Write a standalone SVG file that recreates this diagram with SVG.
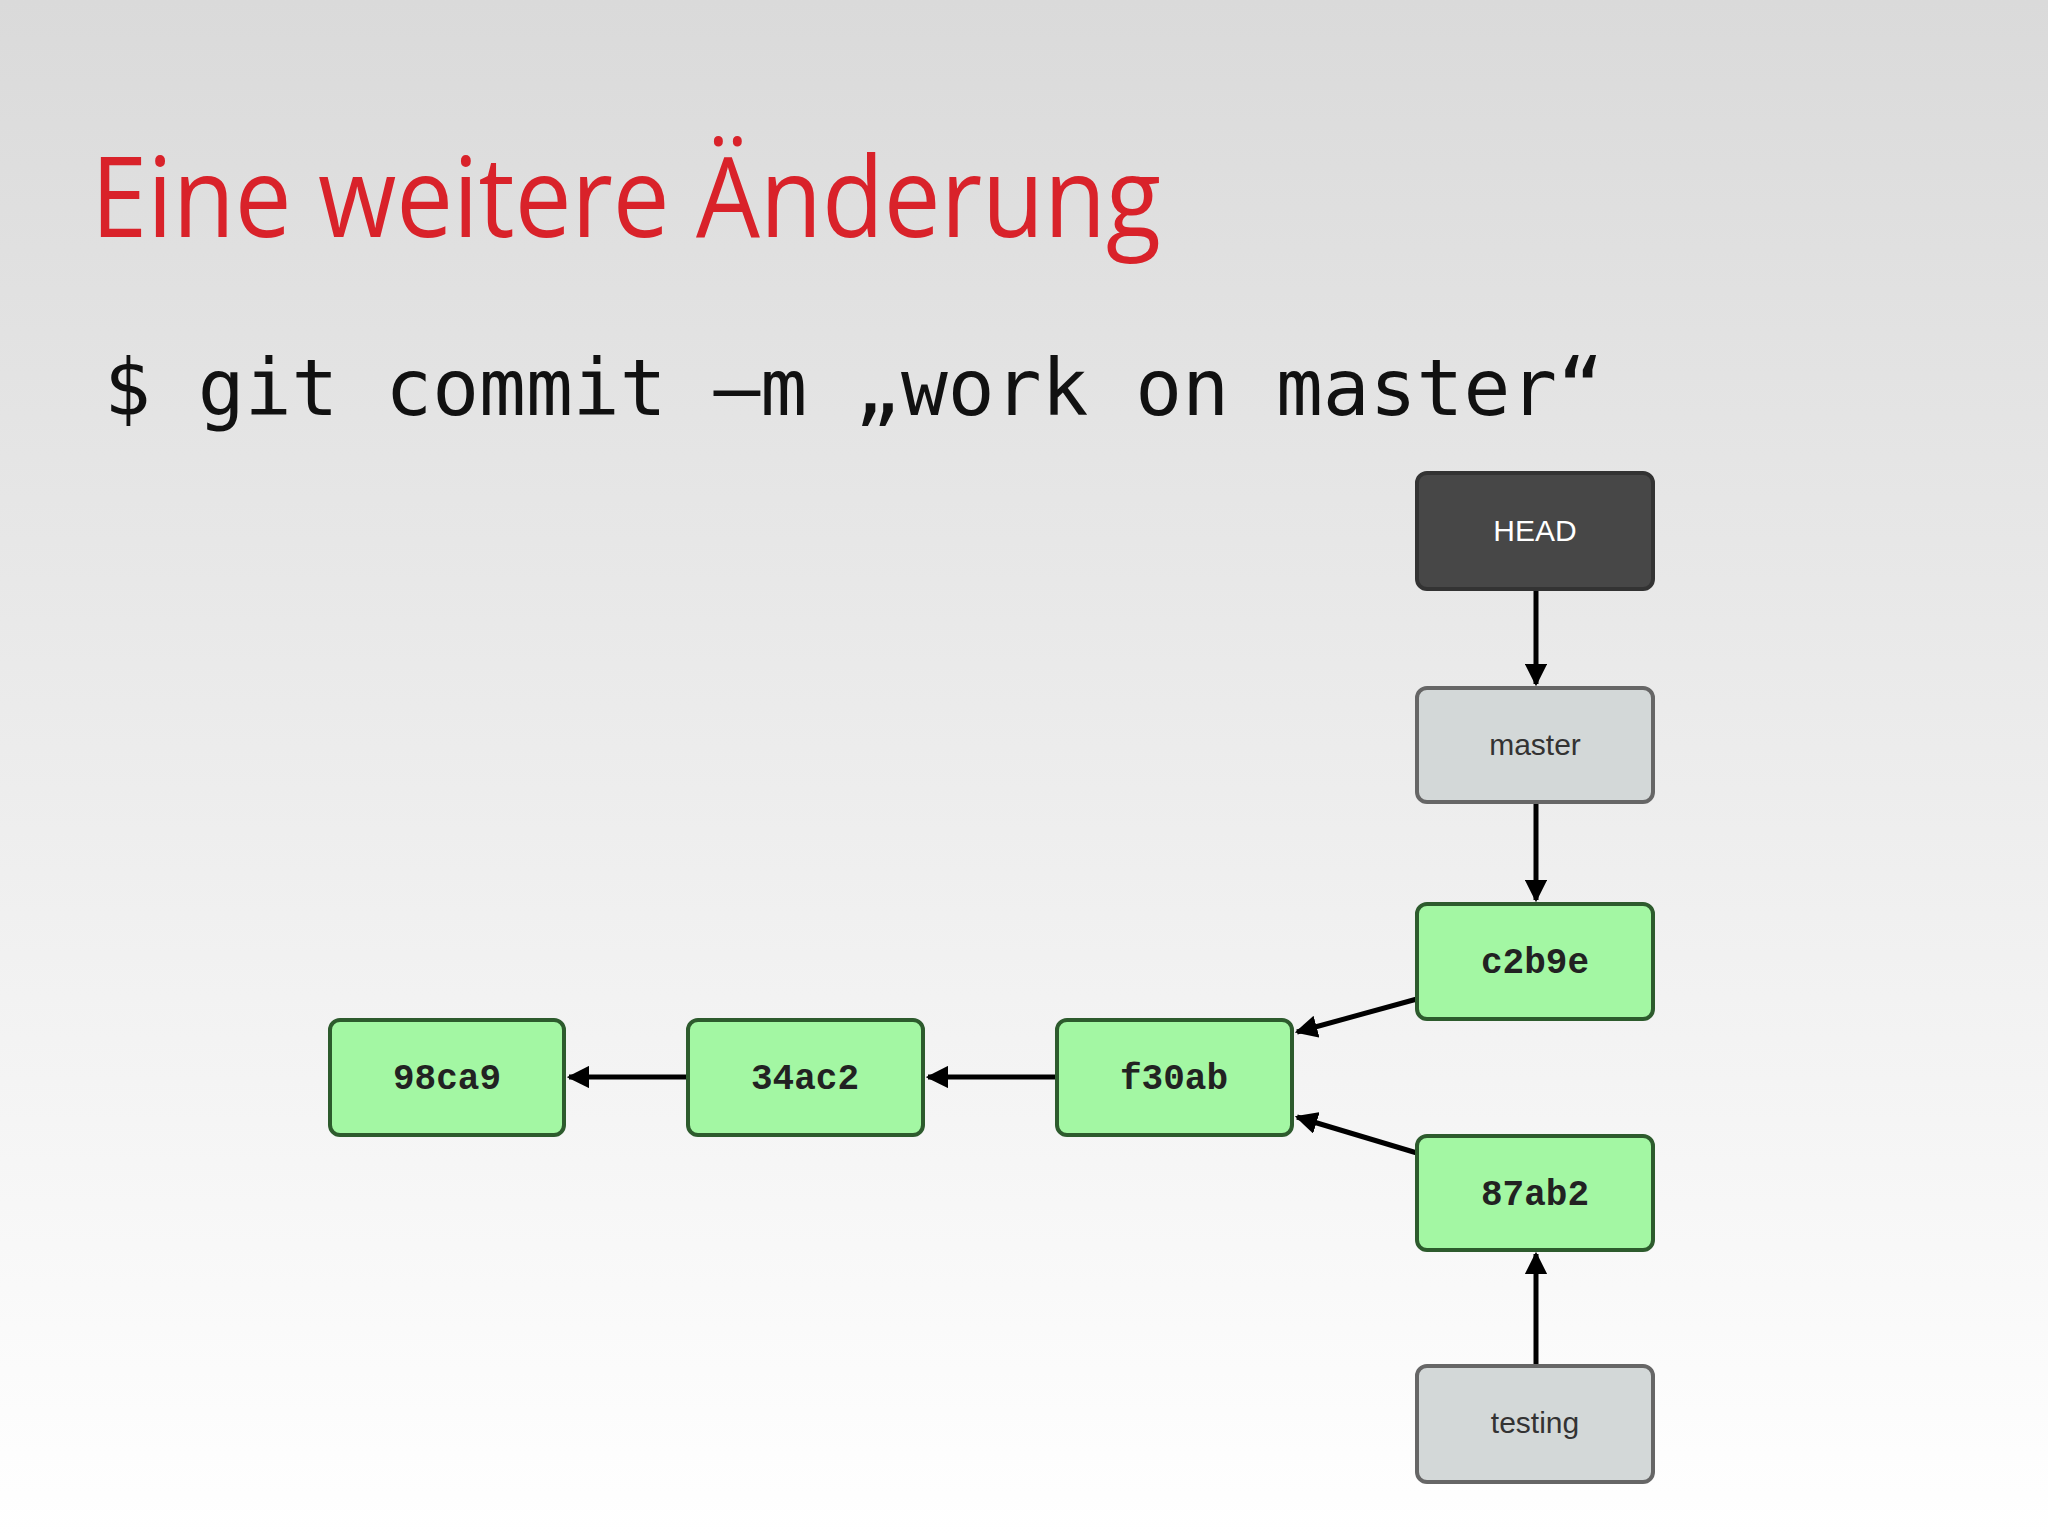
<svg xmlns="http://www.w3.org/2000/svg" width="2048" height="1536" viewBox="0 0 2048 1536">
<defs>
<linearGradient id="bg" x1="0" y1="0" x2="0" y2="1"><stop offset="0" stop-color="#dadada"/><stop offset="1" stop-color="#ffffff"/></linearGradient>
<marker id="ah" viewBox="0 0 10 10" refX="9" refY="5" markerWidth="4.5" markerHeight="4.5" orient="auto"><path d="M0,0 L10,5 L0,10 z" fill="#000"/></marker>
<style>
.c rect{fill:#a3f7a3;stroke:#2d5b2d;stroke-width:4}
.c text{font-family:"Liberation Mono",monospace;font-weight:bold;font-size:36px;fill:#222;text-anchor:middle}
.r rect{fill:#d3d8d8;stroke:#666;stroke-width:4}
.r text{font-family:"Liberation Sans",sans-serif;font-size:30px;fill:#333;text-anchor:middle}
#conn line{stroke:#000;stroke-width:5;marker-end:url(#ah)}
</style>
</defs>
<rect width="2048" height="1536" fill="url(#bg)"/>
<text x="91" y="237" font-family="Open Sans, sans-serif" font-size="112" fill="#d9222a" textLength="1070" lengthAdjust="spacingAndGlyphs">Eine weitere Änderung</text>
<text x="104" y="415" font-family="DejaVu Sans Mono, monospace" font-size="78" fill="#111" textLength="1500" lengthAdjust="spacingAndGlyphs">$ git commit –m „work on master“</text>
<g id="conn">
<line x1="1536" y1="589" x2="1536" y2="684"/>
<line x1="1536" y1="802" x2="1536" y2="900"/>
<line x1="1417" y1="999" x2="1297" y2="1032"/>
<line x1="1417" y1="1153" x2="1297" y2="1117"/>
<line x1="1057" y1="1077" x2="928" y2="1077"/>
<line x1="688" y1="1077" x2="569" y2="1077"/>
<line x1="1536" y1="1366" x2="1536" y2="1254"/>
</g>
<g id="HEAD"><rect x="1417" y="473" width="236" height="116" rx="10" fill="#474747" stroke="#333" stroke-width="4"/><text x="1535" y="541" font-family="Liberation Sans, sans-serif" font-size="30" fill="#fff" text-anchor="middle">HEAD</text></g>
<g id="master" class="r"><rect x="1417" y="688" width="236" height="114" rx="10"/><text x="1535" y="755">master</text></g>
<g id="c2b9e" class="c"><rect x="1417" y="904" width="236" height="115" rx="10"/><text x="1535" y="973">c2b9e</text></g>
<g id="f30ab" class="c"><rect x="1057" y="1020" width="235" height="115" rx="10"/><text x="1174" y="1089">f30ab</text></g>
<g id="n34ac2" class="c"><rect x="688" y="1020" width="235" height="115" rx="10"/><text x="805" y="1089">34ac2</text></g>
<g id="n98ca9" class="c"><rect x="330" y="1020" width="234" height="115" rx="10"/><text x="447" y="1089">98ca9</text></g>
<g id="n87ab2" class="c"><rect x="1417" y="1136" width="236" height="114" rx="10"/><text x="1535" y="1205">87ab2</text></g>
<g id="testing" class="r"><rect x="1417" y="1366" width="236" height="116" rx="10"/><text x="1535" y="1433">testing</text></g>
</svg>
